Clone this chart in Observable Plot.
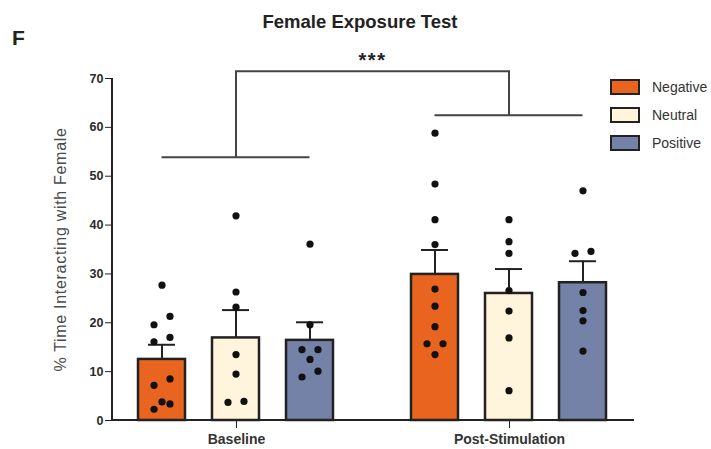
<!DOCTYPE html>
<html>
<head>
<meta charset="utf-8">
<script src="https://cdn.jsdelivr.net/npm/d3@7"></script>
<script src="https://cdn.jsdelivr.net/npm/@observablehq/plot@0.6"></script>
<style>
  body { margin: 0; background: #fff; font-family: "Liberation Sans", Arial, sans-serif; }
  #wrap { position: relative; width: 711px; height: 449px; overflow: hidden; background: #fff; }
  #panel { position: absolute; left: 12px; top: 26px; font-weight: bold; font-size: 21px; color: #222; }
  #title { position: absolute; left: 0; width: 720px; top: 11px; text-align: center; font-weight: bold; font-size: 18.5px; color: #222; }
  #legend { position: absolute; left: 610px; top: 73px; font-size: 14px; color: #333; }
  .row { display: flex; align-items: center; height: 28px; }
  .sw { width: 26px; height: 12px; border: 2px solid #222; margin-right: 12px; }
  #chart { position: absolute; left: 0; top: 0; }
</style>
</head>
<body>
<div id="wrap">
  <div id="chart"></div>
  <div id="panel">F</div>
  <div id="title">Female Exposure Test</div>
  <div id="legend"></div>
</div>
<script>
// ---- data ----
const groups = ["Baseline", "Post-Stimulation"];
const conditions = ["Negative", "Neutral", "Positive"];
const colors = ["#E8641F", "#FFF4DC", "#7382A6"];

const baselineMeans = [12.5, 16.9, 16.4];
const postMeans = [29.9, 26.0, 28.2];
const baselineSEM = [3.0, 5.7, 3.7];
const postSEM = [5.0, 5.0, 4.4];

const baselineNegative = [27.7, 21.3, 19.6, 17.0, 16.1, 8.5, 7.2, 3.8, 3.4, 2.3];
const baselineNeutral = [41.9, 26.3, 23.2, 13.5, 9.5, 3.9, 3.7];
const baselinePositive = [36.1, 19.6, 14.5, 14.5, 12.5, 10.1, 8.9];
const postNegative = [58.8, 48.4, 41.1, 36.0, 26.9, 23.4, 19.2, 15.7, 15.7, 13.5];
const postNeutral = [41.1, 36.6, 34.2, 26.6, 22.4, 16.9, 6.1];
const postPositive = [47.0, 34.6, 34.2, 26.2, 22.5, 20.4, 14.2];

// scatter column of each point (-1 left, 0 centre, 1 right), as seen in the picture
const baselineNegativeSide = [0, 1, -1, 1, -1, 1, -1, 0, 1, -1];
const baselineNeutralSide = [0, 0, 0, 0, 0, 1, -1];
const baselinePositiveSide = [0, 0, -1, 1, 0, 1, -1];
const postNegativeSide = [0, 0, 0, 0, 0, 0, 0, -1, 1, 0];
const postNeutralSide = [0, 0, 0, 0, 0, 0, 0];
const postPositiveSide = [0, 1, -1, 0, 0, 0, 0];

// significance bracket levels (y values)
const bracketTop = 71.4;
const bracketBaseline = 53.8;
const bracketPost = 62.4;
const bracketLabel = "***";

const yTicks = [0, 10, 20, 30, 40, 50, 60, 70];
const yLabel = "% Time Interacting with Female";

// ---- tables ----
const means = [baselineMeans, postMeans];
const sems = [baselineSEM, postSEM];
const summary = groups.flatMap((g, gi) => conditions.map((c, ci) => ({
  group: g, condition: c, mean: means[gi][ci], sem: sems[gi][ci]
})));
const pointSets = [
  [baselineNegative, baselineNeutral, baselinePositive],
  [postNegative, postNeutral, postPositive]
];
const sideSets = [
  [baselineNegativeSide, baselineNeutralSide, baselinePositiveSide],
  [postNegativeSide, postNeutralSide, postPositiveSide]
];
const points = [];
groups.forEach((g, gi) => conditions.forEach((c, ci) => {
  pointSets[gi][ci].forEach((v, i) => points.push({group: g, condition: c, value: v, side: sideSets[gi][ci][i]}));
}));

const ink = "#222";
const plot = Plot.plot({
  width: 711,
  height: 449,
  marginLeft: 112,
  marginRight: 77,
  marginTop: 78,
  marginBottom: 29,
  style: {fontFamily: "'Liberation Sans', Arial, sans-serif", fontSize: "11px", color: ink, background: "transparent", overflow: "visible"},
  fx: {domain: groups, paddingInner: 0.091, paddingOuter: 0, label: null},
  x: {domain: conditions, paddingInner: 0.362, paddingOuter: 0.349, axis: null},
  y: {domain: [0, 70], label: null},
  color: {domain: conditions, range: colors},
  marks: [
    Plot.barY(summary, {fx: "group", x: "condition", y: "mean", fill: "condition", stroke: ink, strokeWidth: 2.5}),
    Plot.ruleX(summary, {fx: "group", x: "condition", y1: "mean", y2: d => d.mean + d.sem, stroke: ink, strokeWidth: 2}),
    Plot.tickY(summary, {fx: "group", x: "condition", y: d => d.mean + d.sem, stroke: ink, strokeWidth: 2, insetLeft: 10, insetRight: 10}),
    ...[-1, 0, 1].map(s => Plot.dot(points.filter(p => p.side === s), {
      fx: "group", x: "condition", y: "value", r: 3.6, fill: "#111", stroke: "none", dx: s * 8
    })),
    Plot.axisY({ticks: yTicks, tickSize: 7, tickPadding: 2, fontSize: 12.5, fill: "#2a2a2a", fontWeight: 600}),
    Plot.axisY({ticks: [], label: yLabel, labelAnchor: "center", labelOffset: 58, labelArrow: "none",
      fontSize: 16, fill: "#4a4a4a"}),
    Plot.axisFx({anchor: "bottom", tickSize: 8, tickPadding: 6, fontSize: 14, fontWeight: "bold", fill: "#333", label: null})
  ]
});

document.getElementById("chart").appendChild(plot);

// widen the y-axis title letter spacing like the reference
d3.select(plot).selectAll("text").filter(function() { return this.textContent === yLabel; })
  .attr("letter-spacing", 0.7);

// axis lines and significance bracket, positioned with Plot's own scales
const fx = plot.scale("fx"), xs = plot.scale("x"), ys = plot.scale("y");
const svg = d3.select(plot);
const cx = (g, c) => fx.apply(g) + (xs.apply(c) - xs.range[0]) + xs.bandwidth / 2;
const gc = g => fx.apply(g) + fx.bandwidth / 2;
const left = fx.range[0], right = fx.range[1];

const gl = svg.append("g").attr("stroke", ink).attr("stroke-width", 2).attr("fill", "none");
gl.append("line").attr("x1", left).attr("x2", left).attr("y1", ys.apply(0)).attr("y2", ys.apply(70));
gl.append("line").attr("x1", left).attr("x2", right).attr("y1", ys.apply(0)).attr("y2", ys.apply(0));

const gb = svg.append("g").attr("stroke", "#444").attr("stroke-width", 2).attr("fill", "none");
gb.append("line").attr("x1", cx(groups[0], conditions[0])).attr("x2", cx(groups[0], conditions[2]))
  .attr("y1", ys.apply(bracketBaseline)).attr("y2", ys.apply(bracketBaseline));
gb.append("line").attr("x1", cx(groups[1], conditions[0])).attr("x2", cx(groups[1], conditions[2]))
  .attr("y1", ys.apply(bracketPost)).attr("y2", ys.apply(bracketPost));
gb.append("path").attr("d",
  `M${gc(groups[0])},${ys.apply(bracketBaseline)}V${ys.apply(bracketTop)}H${gc(groups[1])}V${ys.apply(bracketPost)}`);
svg.append("text")
  .attr("x", (gc(groups[0]) + gc(groups[1])) / 2)
  .attr("y", ys.apply(bracketTop) - 4)
  .attr("text-anchor", "middle")
  .attr("font-weight", "bold")
  .attr("font-size", 20)
  .attr("letter-spacing", 1.5)
  .attr("fill", ink)
  .text(bracketLabel);

// legend
const legend = d3.select("#legend");
conditions.forEach((c, i) => {
  const row = legend.append("div").attr("class", "row");
  row.append("div").attr("class", "sw").style("background", colors[i]);
  row.append("span").text(c);
});
</script>
</body>
</html>
